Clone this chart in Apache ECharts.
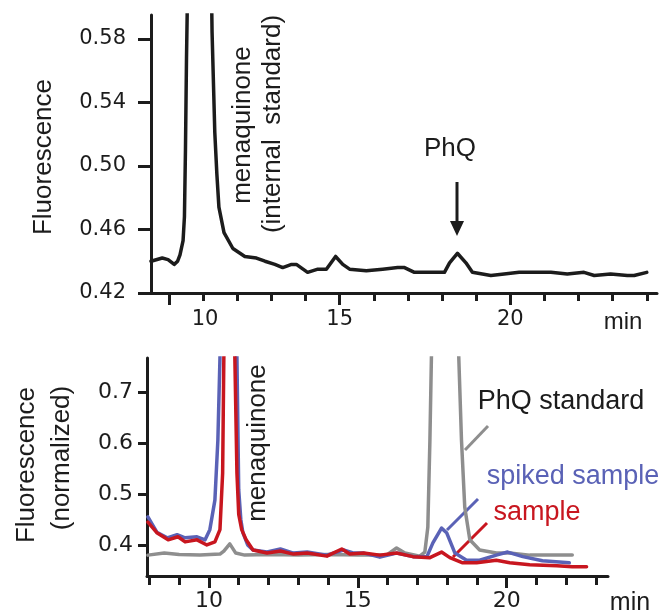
<!DOCTYPE html>
<html>
<head>
<meta charset="utf-8">
<script src="https://cdn.jsdelivr.net/npm/echarts@6/dist/echarts.min.js"></script>
<style>
  html, body { margin: 0; padding: 0; background: #fff; }
  #chart { width: 672px; height: 615px; }
</style>
</head>
<body>
<div id="chart"></div>
<script>
// ---------------- DATA ----------------
// Top panel: chromatogram of a sample (time in min, fluorescence)
const topTime = [9.47, 9.80, 9.97, 10.15, 10.25, 10.32, 10.41, 10.45, 10.48, 10.51, 10.53, 10.6, 10.85, 11.15, 11.26, 11.34, 11.40, 11.46, 11.61, 11.87, 12.22, 12.56, 12.81, 13.1, 13.33, 13.59, 13.73, 14.06, 14.36, 14.61, 14.88, 15.09, 15.29, 15.78, 16.26, 16.70, 16.9, 17.19, 17.57, 18.07, 18.22, 18.45, 18.7, 18.89, 19.43, 19.82, 20.26, 20.70, 21.19, 21.67, 22.16, 22.46, 22.94, 23.43, 23.63, 24.0];
const topFluor = [0.440, 0.442, 0.441, 0.438, 0.440, 0.444, 0.453, 0.468, 0.510, 0.567, 0.595, 0.75, 1.60, 0.75, 0.584, 0.521, 0.495, 0.474, 0.458, 0.448, 0.443, 0.442, 0.440, 0.438, 0.436, 0.438, 0.438, 0.433, 0.435, 0.435, 0.443, 0.438, 0.435, 0.434, 0.435, 0.436, 0.436, 0.433, 0.433, 0.433, 0.439, 0.445, 0.439, 0.433, 0.431, 0.432, 0.433, 0.433, 0.433, 0.432, 0.433, 0.431, 0.432, 0.431, 0.431, 0.433];

// Bottom panel: PhQ standard (grey)
const greyTime = [7.95, 8.5, 9.0, 9.7, 10.37, 10.5, 10.7, 10.9, 11.2, 12.0, 13.0, 14.0, 15.0, 15.96, 16.3, 16.58, 17.08, 17.25, 17.35, 17.42, 17.47, 17.55, 17.92, 18.3, 18.39, 18.48, 18.59, 18.76, 19.09, 19.65, 20.1, 20.77, 21.5, 22.2];
const greyFluor = [0.380, 0.384, 0.381, 0.380, 0.382, 0.388, 0.402, 0.384, 0.380, 0.381, 0.380, 0.381, 0.380, 0.380, 0.394, 0.384, 0.378, 0.386, 0.435, 0.606, 0.767, 0.95, 1.8, 0.95, 0.767, 0.606, 0.474, 0.410, 0.390, 0.384, 0.384, 0.380, 0.380, 0.380];

// Bottom panel: spiked sample (blue)
const blueTime = [7.95, 8.25, 8.6, 8.93, 9.2, 9.6, 9.87, 10.03, 10.2, 10.3, 10.37, 10.45, 10.7, 10.88, 10.94, 11.0, 11.07, 11.14, 11.3, 11.48, 11.95, 12.4, 12.84, 13.3, 13.96, 14.52, 14.87, 15.2, 15.74, 16.3, 16.85, 17.32, 17.52, 17.81, 17.98, 18.26, 18.65, 19.09, 19.65, 20.03, 20.54, 21.2, 22.1];
const blueFluor = [0.455, 0.425, 0.414, 0.420, 0.414, 0.416, 0.410, 0.430, 0.488, 0.606, 0.767, 0.95, 1.6, 0.95, 0.767, 0.508, 0.450, 0.424, 0.400, 0.390, 0.386, 0.392, 0.384, 0.386, 0.380, 0.390, 0.384, 0.384, 0.376, 0.384, 0.377, 0.377, 0.404, 0.433, 0.424, 0.384, 0.370, 0.370, 0.380, 0.386, 0.377, 0.369, 0.365];

// Bottom panel: sample (red)
const redTime = [7.95, 8.25, 8.63, 8.96, 9.2, 9.6, 9.93, 10.2, 10.37, 10.46, 10.5, 10.58, 10.7, 10.8, 10.87, 10.94, 11.0, 11.1, 11.25, 11.48, 11.95, 12.4, 12.84, 13.3, 13.96, 14.46, 14.73, 15.2, 15.74, 16.3, 16.85, 17.42, 17.81, 18.09, 18.52, 18.99, 19.65, 20.1, 20.77, 21.68, 22.2, 22.68];
const redFluor = [0.445, 0.424, 0.410, 0.416, 0.406, 0.410, 0.400, 0.406, 0.430, 0.541, 0.767, 0.95, 1.6, 0.95, 0.767, 0.541, 0.460, 0.430, 0.410, 0.390, 0.384, 0.388, 0.382, 0.384, 0.378, 0.392, 0.382, 0.384, 0.380, 0.384, 0.377, 0.375, 0.386, 0.375, 0.365, 0.365, 0.370, 0.365, 0.361, 0.359, 0.357, 0.357];

// Tick values / labels
const topXLabels = [10, 15, 20];
const topXMinor = [10, 11, 12, 13, 14, 15, 16, 17, 18, 19, 20, 21, 22, 23, 24];
const topYTicks = [0.42, 0.46, 0.50, 0.54, 0.58];
const botXLabels = [10, 15, 20];
const botXMinor = [8, 9, 10, 11, 12, 13, 14, 15, 16, 17, 18, 19, 20, 21, 22, 23];
const botYTicks = [0.4, 0.5, 0.6, 0.7];

// ---------------- STYLE ----------------
const INK = '#1c1c1c';
const GREY = '#8e8e8e';
const BLUE = '#5a62b6';
const RED = '#c8161f';
const TICK_FONT = 'DejaVu Sans';
const TEXT_FONT = 'Liberation Sans';
const LW = 3.5;

const zip = (a, b) => a.map((v, i) => [v, b[i]]);

function majorX(grid, min, max, labels, fontSize, margin, formatter) {
  return {
    gridIndex: grid, type: 'value', min: min, max: max, position: 'bottom',
    axisLine: { show: true, onZero: false, lineStyle: { color: INK, width: 3 } },
    axisTick: { show: true, customValues: labels, length: 12, lineStyle: { color: INK, width: 3 } },
    axisLabel: {
      show: true, customValues: labels, color: INK, fontFamily: TICK_FONT, fontSize: fontSize,
      margin: margin, formatter: formatter,
      rich: { shift: { padding: [0, 0, 0, 72], color: INK, fontFamily: TICK_FONT, fontSize: fontSize } }
    },
    splitLine: { show: false }
  };
}
function minorX(grid, min, max, ticks, len) {
  return {
    gridIndex: grid, type: 'value', min: min, max: max, position: 'bottom',
    axisLine: { show: false, onZero: false },
    axisTick: { show: true, customValues: ticks, length: len, lineStyle: { color: INK, width: 3 } },
    axisLabel: { show: false },
    splitLine: { show: false }
  };
}
function yAx(grid, min, max, ticks, len, fontSize, margin, digits) {
  return {
    gridIndex: grid, type: 'value', min: min, max: max,
    axisLine: { show: true, onZero: false, lineStyle: { color: INK, width: 3 } },
    axisTick: { show: true, customValues: ticks, length: len, lineStyle: { color: INK, width: 3 } },
    axisLabel: { show: true, customValues: ticks, color: INK, fontFamily: TICK_FONT, fontSize: fontSize,
      margin: margin, formatter: v => v.toFixed(digits) },
    splitLine: { show: false }
  };
}
function lineSeries(xi, yi, data, color) {
  return {
    type: 'line', xAxisIndex: xi, yAxisIndex: yi, data: data,
    showSymbol: false, symbol: 'none', clip: true, smooth: false, silent: true,
    lineStyle: { color: color, width: LW, join: 'round', cap: 'round' }, z: 3
  };
}

function txt(x, y, text, size, color, rot) {
  return {
    type: 'text', x: x, y: y, rotation: rot || 0, silent: true,
    style: { text: text, fill: color || INK, font: size + 'px "' + TEXT_FONT + '"', align: 'center', verticalAlign: 'middle' }
  };
}
function seg(x1, y1, x2, y2, color) {
  return { type: 'line', silent: true, shape: { x1: x1, y1: y1, x2: x2, y2: y2 }, style: { stroke: color, lineWidth: 3 } };
}

const chart = echarts.init(document.getElementById('chart'), null, { renderer: 'canvas' });
const R90 = Math.PI / 2;

chart.setOption({
  animation: false,
  backgroundColor: '#ffffff',
  grid: [
    { left: 151, top: 15, width: 506, height: 278 },
    { left: 147, top: 358, width: 461, height: 218 }
  ],
  xAxis: [
    majorX(0, 9.47, 24.3, topXLabels, 21, 16, v => (v === 10 ? '{shift|10}' : String(v))),
    minorX(0, 9.47, 24.3, topXMinor, 8),
    majorX(1, 7.92, 23.4, botXLabels, 22, 14, v => String(v)),
    minorX(1, 7.92, 23.4, botXMinor, 9)
  ],
  yAxis: [
    yAx(0, 0.42, 0.595, topYTicks, 13, 21, 25, 2),
    yAx(1, 0.339, 0.767, botYTicks, 9, 22, 14, 1)
  ],
  series: [
    lineSeries(0, 0, zip(topTime, topFluor), INK),
    lineSeries(2, 1, zip(greyTime, greyFluor), GREY),
    lineSeries(2, 1, zip(blueTime, blueFluor), BLUE),
    lineSeries(2, 1, zip(redTime, redFluor), RED)
  ],
  graphic: [
    // top panel
    txt(44, 157, 'Fluorescence', 26, INK, R90),
    txt(243, 125, 'menaquinone', 26, INK, R90),
    txt(273, 124, '(internal  standard)', 26, INK, R90),
    txt(450, 149, 'PhQ', 26, INK),
    seg(457, 182, 457, 224, INK),
    { type: 'polygon', silent: true, shape: { points: [[450, 221], [464, 221], [457, 236]] }, style: { fill: INK } },
    txt(623, 322, 'min', 24, INK),
    // bottom panel
    txt(27, 465, 'Fluorescence', 26, INK, R90),
    txt(62, 458, '(normalized)', 26, INK, R90),
    txt(258, 443, 'menaquinone', 26, INK, R90),
    txt(561, 402, 'PhQ standard', 27, INK),
    seg(488, 426, 465, 450, GREY),
    txt(573, 477, 'spiked sample', 27, BLUE),
    seg(478, 499, 447, 530, BLUE),
    txt(537, 513, 'sample', 27, RED),
    seg(487, 523, 453, 557, RED),
    txt(630, 603, 'min', 25, INK)
  ]
});
</script>
</body>
</html>
